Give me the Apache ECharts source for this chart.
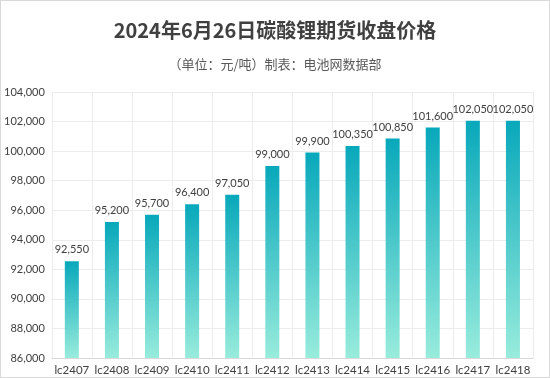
<!DOCTYPE html>
<html><head><meta charset="utf-8">
<script src="https://cdn.jsdelivr.net/npm/echarts@6/dist/echarts.min.js"></script>
<style>
html,body{margin:0;padding:0;background:#fff;}
#c{width:548px;height:376px;border:1px solid #d9d9d9;}
</style></head>
<body><div id="c"></div>
<script>
const categories = ['lc2407','lc2408','lc2409','lc2410','lc2411','lc2412','lc2413','lc2414','lc2415','lc2416','lc2417','lc2418'];
const prices = [92550,95200,95700,96400,97050,99000,99900,100350,100850,101600,102050,102050];
const titleText = '2024年6月26日碳酸锂期货收盘价格';
const subText = '（单位：元/吨）制表：电池网数据部';
const yMin = 86000, yMax = 104000, yStep = 2000;

const chart = echarts.init(document.getElementById('c'));
chart.setOption({
  animation:false,
  title:{
    text:titleText, subtext:subText, left:'center', top:14, itemGap:18,
    textStyle:{fontFamily:'Noto Sans CJK SC',fontSize:20,fontWeight:'bold',color:'#404040'},
    subtextStyle:{fontFamily:'Noto Sans CJK SC',fontSize:13,color:'#595959'}
  },
  grid:{left:47,right:16,top:91,bottom:19},
  xAxis:{type:'category',data:categories,
    axisLine:{show:true,lineStyle:{color:'#d9d9d9'}},axisTick:{show:false},
    splitLine:{show:true,lineStyle:{color:'#ececec'}},
    axisLabel:{color:'#404040',fontSize:11.5,fontFamily:'Lato',margin:6,interval:0}},
  yAxis:{type:'value',min:yMin,max:yMax,interval:yStep,
    axisLine:{show:false},axisTick:{show:false},
    splitLine:{lineStyle:{color:'#ececec'}},
    axisLabel:{color:'#404040',fontSize:11,fontFamily:'Lato',margin:7,
      formatter:v=>v.toLocaleString('en-US')}},
  series:[{type:'bar',data:prices,barWidth:14,
    itemStyle:{color:new echarts.graphic.LinearGradient(0,0,0,1,[
      {offset:0,color:'#08a8bb'},{offset:1,color:'#98ecdc'}])},
    label:{show:true,position:'top',distance:6,color:'#404040',fontSize:11,fontFamily:'Lato',
      formatter:p=>p.value.toLocaleString('en-US')}
  }]
});
</script></body></html>
